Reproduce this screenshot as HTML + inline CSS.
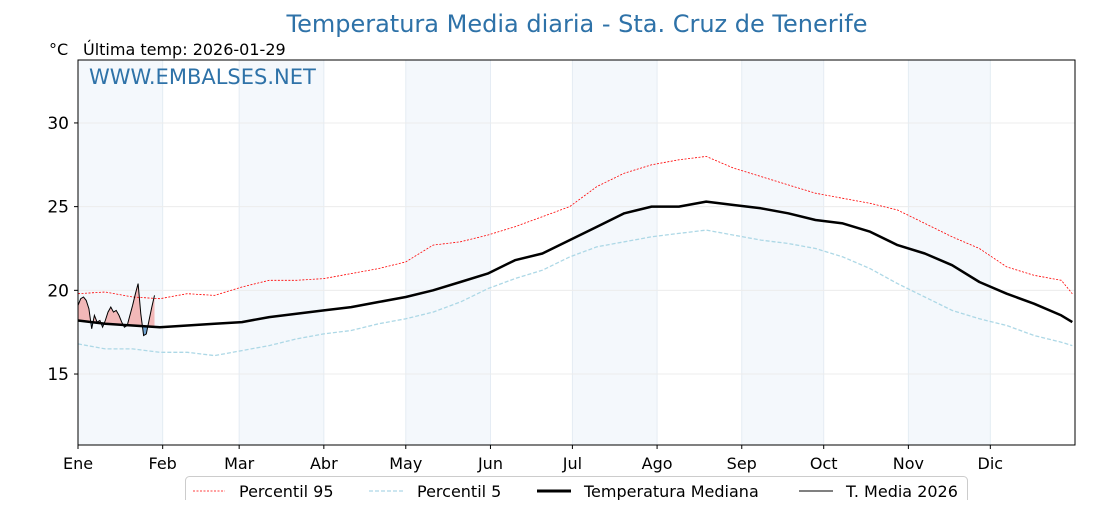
<!DOCTYPE html>
<html><head><meta charset="utf-8"><style>
body{margin:0;background:#fff;}
svg text{font-family:"DejaVu Sans","Liberation Sans",sans-serif;}
</style></head><body>
<svg id="chart" width="1120" height="500" xmlns="http://www.w3.org/2000/svg">
<text x="577" y="32" font-size="24" fill="#2e72a8" text-anchor="middle">Temperatura Media diaria - Sta. Cruz de Tenerife</text>
<text x="49" y="55" font-size="16" fill="#000">°C</text>
<text x="83" y="55" font-size="16" fill="#000">Última temp: 2026-01-29</text>
<g id="bands"></g>
<g id="grid"></g>
<g id="series"></g>
<rect x="78" y="60" width="997" height="385" fill="none" stroke="#000" stroke-width="1"/>
<text x="89" y="84" font-size="21" fill="#2e72a8">WWW.EMBALSES.NET</text>
<g id="axes"></g>
<g>
<rect x="185.5" y="476.5" width="782" height="30" rx="4" fill="#fff" stroke="#ccc"/>
<line x1="193" y1="491" x2="225" y2="491" stroke="red" stroke-width="0.8" stroke-dasharray="2,1.5"/>
<text x="239" y="497" font-size="16">Percentil 95</text>
<line x1="369" y1="491" x2="403" y2="491" stroke="#add8e6" stroke-width="1.2" stroke-dasharray="4,2"/>
<text x="417" y="497" font-size="16">Percentil 5</text>
<line x1="537" y1="491" x2="571" y2="491" stroke="#000" stroke-width="3"/>
<text x="584" y="497" font-size="16">Temperatura Mediana</text>
<line x1="799" y1="491" x2="833" y2="491" stroke="#000" stroke-width="1"/>
<text x="846" y="497" font-size="16">T. Media 2026</text>
</g>
</svg>
<script>
const monthLabels=["Ene","Feb","Mar","Abr","May","Jun","Jul","Ago","Sep","Oct","Nov","Dic"];
const monthStarts=[0,31,59,90,120,151,181,212,243,273,304,334];
const yTicks=[15,20,25,30];
const sampleDays=[0,10,20,30,40,50,60,70,80,90,100,110,120,130,140,150,160,170,180,190,200,210,220,230,240,250,260,270,280,290,300,310,320,330,340,350,360,364];
const median=[18.2,18.0,17.9,17.8,17.9,18.0,18.1,18.4,18.6,18.8,19.0,19.3,19.6,20.0,20.5,21.0,21.8,22.2,23.0,23.8,24.6,25.0,25.0,25.3,25.1,24.9,24.6,24.2,24.0,23.5,22.7,22.2,21.5,20.5,19.8,19.2,18.5,18.1];
const p95=[19.8,19.9,19.6,19.5,19.8,19.7,20.2,20.6,20.6,20.7,21.0,21.3,21.7,22.7,22.9,23.3,23.8,24.4,25.0,26.2,27.0,27.5,27.8,28.0,27.3,26.8,26.3,25.8,25.5,25.2,24.8,24.0,23.2,22.5,21.4,20.9,20.6,19.8];
const p5=[16.8,16.5,16.5,16.3,16.3,16.1,16.4,16.7,17.1,17.4,17.6,18.0,18.3,18.7,19.3,20.1,20.7,21.2,22.0,22.6,22.9,23.2,23.4,23.6,23.3,23.0,22.8,22.5,22.0,21.3,20.4,19.6,18.8,18.3,17.9,17.3,16.9,16.7];
const t2026=[19.1,19.5,19.6,19.4,18.9,17.7,18.5,18.1,18.2,17.8,18.2,18.7,19.0,18.7,18.8,18.5,18.1,17.8,17.9,18.5,19.1,19.8,20.4,18.6,17.3,17.4,18.2,19.0,19.7];

const X0=78,X1=1075,Y0=60,Y1=445,YMIN=10.76,YMAX=33.76;
const xs=d=>X0+d*(X1-X0)/365;
const ys=v=>Y1-(v-YMIN)*(Y1-Y0)/(YMAX-YMIN);
const NS="http://www.w3.org/2000/svg";
function mk(tag,attrs,parent){const e=document.createElementNS(NS,tag);for(const k in attrs)e.setAttribute(k,attrs[k]);parent.appendChild(e);return e;}
function medAt(d){for(let i=0;i<sampleDays.length-1;i++){if(d<=sampleDays[i+1]){const t=(d-sampleDays[i])/(sampleDays[i+1]-sampleDays[i]);return median[i]+t*(median[i+1]-median[i]);}}return median[median.length-1];}

const bands=document.getElementById('bands'),grid=document.getElementById('grid'),series=document.getElementById('series'),axes=document.getElementById('axes');
for(let i=0;i<12;i+=2){
  const end=i+1<12?monthStarts[i+1]:365;
  const r=mk('rect',{x:xs(monthStarts[i]),y:Y0,width:xs(end)-xs(monthStarts[i]),height:Y1-Y0,fill:'#f4f8fc'},bands);
  
  
}
monthStarts.forEach((d,i)=>{
  const g=mk('line',{x1:xs(d),x2:xs(d),y1:Y0,y2:Y1,stroke:'#e4ecf3','stroke-width':1},grid);
  
  
  const t=mk('line',{x1:xs(d),x2:xs(d),y1:Y1,y2:Y1+4,stroke:'#000'},axes);
  
  
  const l=mk('text',{x:xs(d),y:Y1+24,'font-size':16,'text-anchor':'middle'},axes);
  l.textContent=monthLabels[i];
  
  
});
yTicks.forEach(v=>{
  const g=mk('line',{x1:X0,x2:X1,y1:ys(v),y2:ys(v),stroke:'#ececec'},grid);
  
  
  const t=mk('line',{x1:X0-4,x2:X0,y1:ys(v),y2:ys(v),stroke:'#000'},axes);
  
  
  const l=mk('text',{x:X0-9,y:ys(v)+6,'font-size':17,'text-anchor':'end'},axes);
  l.textContent=v;
  
  
});
const pts=(days,vals)=>vals.map((v,i)=>xs(days[i]).toFixed(1)+','+ys(v).toFixed(1)).join(' ');
const tdays=t2026.map((v,i)=>i);
const lastDay=tdays[tdays.length-1];
const medPts=tdays.map(d=>xs(d).toFixed(1)+','+ys(medAt(d)).toFixed(1));
const area=pts(tdays,t2026)+' '+medPts.slice().reverse().join(' ');
const defs=mk('defs',{},series);
const cpA=mk('clipPath',{id:'above'},defs);
mk('polygon',{points:xs(0)+','+Y0+' '+medPts.join(' ')+' '+xs(lastDay)+','+Y0},cpA);
const cpB=mk('clipPath',{id:'below'},defs);
mk('polygon',{points:xs(0)+','+Y1+' '+medPts.join(' ')+' '+xs(lastDay)+','+Y1},cpB);
const fa=mk('polygon',{points:area,fill:'#f2b8b8','clip-path':'url(#above)'},series);


const fb=mk('polygon',{points:area,fill:'#6fa3d0','clip-path':'url(#below)'},series);


const l95=mk('polyline',{points:pts(sampleDays,p95),fill:'none',stroke:'red','stroke-width':0.8,'stroke-dasharray':'2,1.5'},series);


const l5=mk('polyline',{points:pts(sampleDays,p5),fill:'none',stroke:'#add8e6','stroke-width':1.3,'stroke-dasharray':'4,2'},series);


const lm=mk('polyline',{points:pts(sampleDays,median),fill:'none',stroke:'#000','stroke-width':2.5,'stroke-linejoin':'round'},series);


const l26=mk('polyline',{points:pts(tdays,t2026),fill:'none',stroke:'#000','stroke-width':1},series);


</script>
</body></html>
